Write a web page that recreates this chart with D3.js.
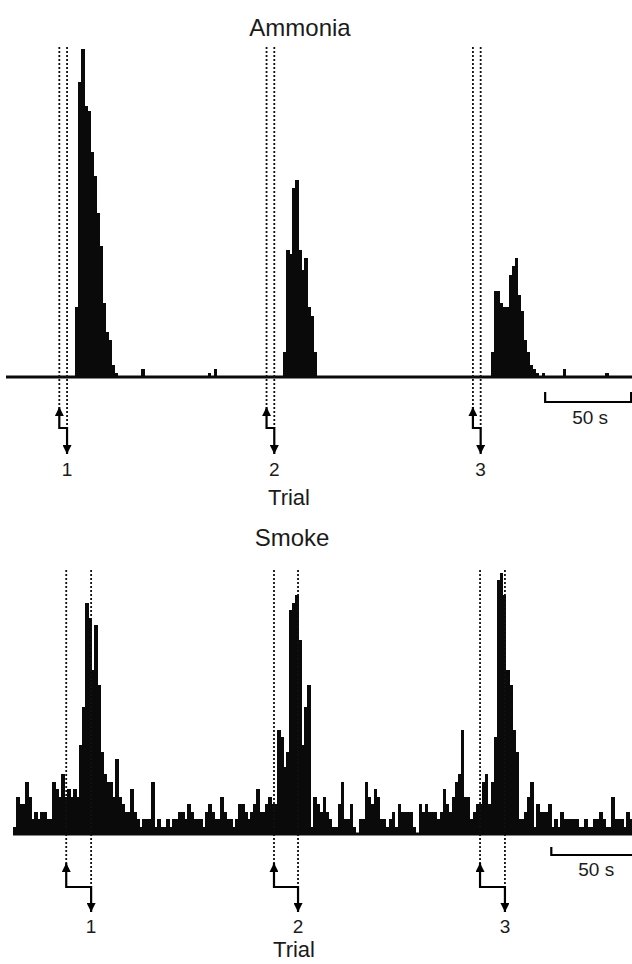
<!DOCTYPE html>
<html>
<head>
<meta charset="utf-8">
<script src="https://cdn.jsdelivr.net/npm/d3@7"></script>
<style>
  body { margin: 0; background: #fff; }
  text { font-family: "Liberation Sans", Arial, sans-serif; fill: #1b1b1b; }
</style>
</head>
<body>
<div id="wrapper"></div>
<script>
// spike counts per bin
const binSeconds = 1.75

const ammoniaCounts = [
  0,0,0,0,0,0,0,0,0,0,0,0,0,0,0,0,0,0,0,0,
  0,0,0,17,72,80,66,65,55,49,40,32,18,11,9,3,1,0,0,0,
  0,0,0,0,0,2,0,0,0,0,0,0,0,0,0,0,0,0,0,0,
  0,0,0,0,0,0,0,1,0,2,0,0,0,0,0,0,0,0,0,0,
  0,0,0,0,0,0,0,0,0,0,0,0,6,31,30,46,48,31,26,29,
  17,15,6,0,0,0,0,0,0,0,0,0,0,0,0,0,0,0,0,0,
  0,0,0,0,0,0,0,0,0,0,0,0,0,0,0,0,0,0,0,0,
  0,0,0,0,0,0,0,0,0,0,0,0,0,0,0,0,0,0,0,0,
  0,6,21,21,18,17,17,25,27,29,20,16,9,6,3,2,1,0,1,0,
  0,0,0,0,0,2,0,0,0,0,0,0,0,0,0,0,0,0,0,1,
  0,0,0,0,0,0,0,0
]

const smokeCounts = [
  1,5,4,4,7,5,2,3,2,3,3,2,2,7,6,5,8,5,6,5,
  6,5,12,17,31,29,22,28,20,11,8,7,7,5,10,5,4,3,3,6,
  3,2,1,2,2,2,7,1,2,1,1,2,1,2,2,3,3,2,4,3,
  2,2,2,1,3,4,3,2,2,5,3,2,2,1,2,4,4,3,2,3,
  4,6,3,3,4,5,4,4,14,13,9,11,30,31,32,26,12,17,20,1,
  5,4,3,5,3,2,1,1,4,7,2,2,4,1,0,2,2,7,5,4,
  6,5,2,2,1,2,3,1,4,3,3,3,3,1,0,4,3,4,3,3,
  3,2,3,6,4,3,5,7,8,14,5,5,2,3,4,4,7,8,4,7,
  13,34,35,32,22,20,14,11,2,2,3,5,7,1,4,3,3,3,4,1,
  2,1,3,2,2,2,2,2,1,1,2,1,1,2,2,3,2,1,1,5,
  2,2,2,1,3,2
]

// stimulus onset and response times (s)
const ammoniaOnset = [31, 151.5, 271.5]
const ammoniaResponse = [35.5, 156, 276]
const smokeOnset = [31, 152, 272]
const smokeResponse = [45.5, 166, 286.5]

const trialLabels = ["1", "2", "3"]
const scaleBarSeconds = 50
const scaleBarStart = 313.5

const dimensions = { width: 632, height: 964 }

const panels = [
  {
    title: "Ammonia", counts: ammoniaCounts, onset: ammoniaOnset, response: ammoniaResponse,
    yMax: 80, left: 6, titleX: 300, titleY: 36,
    top: 49, base: 377, dashTop: 47, arrowTip: 407, stepY: 428, downTip: 454,
    labelY: 476, trialX: 289, trialY: 505, barY: 402, barTick: 10, barTextY: 424
  },
  {
    title: "Smoke", counts: smokeCounts, onset: smokeOnset, response: smokeResponse,
    yMax: 35, left: 13, titleX: 292, titleY: 546,
    top: 573, base: 834, dashTop: 570, arrowTip: 863, stepY: 887, downTip: 912,
    labelY: 933, trialX: 294, trialY: 957, barY: 855, barTick: 8, barTextY: 876
  }
]

const wrapper = d3.select("#wrapper")
  .append("svg")
  .attr("width", dimensions.width)
  .attr("height", dimensions.height)

wrapper.append("defs").append("marker")
  .attr("id", "head")
  .attr("viewBox", "0 0 10 10")
  .attr("refX", 10)
  .attr("refY", 5)
  .attr("markerUnits", "userSpaceOnUse")
  .attr("markerWidth", 13)
  .attr("markerHeight", 9)
  .attr("orient", "auto-start-reverse")
  .append("path")
  .attr("d", "M0,0L10,5L0,10z")
  .attr("fill", "#000")

const drawPanel = (p) => {
  const g = wrapper.append("g")

  const xScale = d3.scaleLinear()
    .domain([0, p.counts.length * binSeconds])
    .range([p.left, dimensions.width])

  const yScale = d3.scaleLinear()
    .domain([0, p.yMax])
    .range([p.base, p.top])

  const bins = p.counts.map((c, i) => ({ t0: i * binSeconds, t1: (i + 1) * binSeconds, c }))
    .filter(d => d.c > 0)

  g.append("g")
    .attr("shape-rendering", "crispEdges")
    .selectAll("rect")
    .data(bins)
    .join("rect")
    .attr("x", d => xScale(d.t0))
    .attr("width", d => xScale(d.t1) - xScale(d.t0) + 0.7)
    .attr("y", d => yScale(d.c))
    .attr("height", d => yScale(0) - yScale(d.c))
    .attr("fill", "#0a0a0a")

  g.append("line")
    .attr("x1", xScale(0))
    .attr("x2", dimensions.width)
    .attr("y1", yScale(0))
    .attr("y2", yScale(0))
    .attr("stroke", "#0a0a0a")
    .attr("stroke-width", 2.8)

  // dotted stimulus / response markers
  const dash = g.append("g")
    .attr("stroke", "#111")
    .attr("stroke-width", 1.8)
    .attr("stroke-dasharray", "2,2")
  dash.selectAll(".on")
    .data(p.onset)
    .join("line")
    .attr("class", "on")
    .attr("x1", d => xScale(d)).attr("x2", d => xScale(d))
    .attr("y1", p.dashTop).attr("y2", p.arrowTip)
  dash.selectAll(".resp")
    .data(p.response)
    .join("line")
    .attr("class", "resp")
    .attr("x1", d => xScale(d)).attr("x2", d => xScale(d))
    .attr("y1", p.dashTop).attr("y2", p.stepY)

  g.append("g")
    .selectAll("path")
    .data(p.onset.map((t, i) => [t, p.response[i]]))
    .join("path")
    .attr("d", d => `M${xScale(d[0])},${p.arrowTip}V${p.stepY}H${xScale(d[1])}V${p.downTip}`)
    .attr("fill", "none")
    .attr("stroke", "#000")
    .attr("stroke-width", 2.2)
    .attr("marker-start", "url(#head)")
    .attr("marker-end", "url(#head)")

  g.append("g")
    .selectAll("text")
    .data(trialLabels)
    .join("text")
    .attr("x", (d, i) => xScale(p.response[i]))
    .attr("y", p.labelY)
    .attr("text-anchor", "middle")
    .style("font-size", "19px")
    .text(d => d)

  g.append("text")
    .attr("x", p.trialX)
    .attr("y", p.trialY)
    .attr("text-anchor", "middle")
    .style("font-size", "22px")
    .text("Trial")

  g.append("text")
    .attr("x", p.titleX)
    .attr("y", p.titleY)
    .attr("text-anchor", "middle")
    .style("font-size", "24px")
    .text(p.title)

  // 50 s scale bar
  const sb0 = xScale(scaleBarStart)
  const sb1 = xScale(scaleBarStart + scaleBarSeconds)
  g.append("path")
    .attr("d", `M${sb0},${p.barY - p.barTick}V${p.barY}H${sb1}V${p.barY - p.barTick}`)
    .attr("fill", "none")
    .attr("stroke", "#000")
    .attr("stroke-width", 2.2)
  g.append("text")
    .attr("x", (sb0 + sb1) / 2 + 2)
    .attr("y", p.barTextY)
    .attr("text-anchor", "middle")
    .style("font-size", "19px")
    .text(scaleBarSeconds + " s")
}

panels.forEach(drawPanel)
</script>
</body>
</html>
